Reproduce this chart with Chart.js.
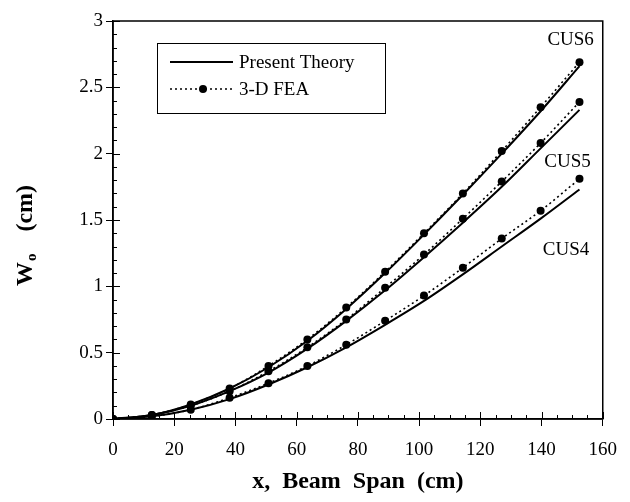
<!DOCTYPE html>
<html>
<head>
<meta charset="utf-8">
<script src="https://cdn.jsdelivr.net/npm/chart.js@4.4.1/dist/chart.umd.min.js"></script>
<style>
  html, body { margin: 0; padding: 0; background: #fff; }
  #wrap { width: 630px; height: 502px; }
</style>
</head>
<body>
<div id="wrap"><canvas id="c" width="630" height="502"></canvas></div>
<script>
// beam span stations (cm) where the FEA results were taken
const spanX = [0, 12.7, 25.4, 38.1, 50.8, 63.5, 76.2, 88.9, 101.6, 114.3, 127, 139.7, 152.4];

// deflection W0 (cm), 3-D FEA
const feaCUS6 = [0, 0.03, 0.11, 0.23, 0.40, 0.60, 0.84, 1.11, 1.40, 1.70, 2.02, 2.35, 2.69];
const feaCUS5 = [0, 0.03, 0.10, 0.21, 0.36, 0.54, 0.75, 0.99, 1.24, 1.51, 1.79, 2.08, 2.39];
const feaCUS4 = [0, 0.02, 0.07, 0.16, 0.27, 0.40, 0.56, 0.74, 0.93, 1.14, 1.36, 1.57, 1.81];

// deflection W0 (cm), present theory
const thCUS6 = [0, 0.03, 0.11, 0.23, 0.39, 0.59, 0.83, 1.10, 1.39, 1.69, 2.00, 2.32, 2.66];
const thCUS5 = [0, 0.03, 0.10, 0.21, 0.35, 0.53, 0.74, 0.97, 1.22, 1.48, 1.75, 2.04, 2.33];
const thCUS4 = [0, 0.02, 0.07, 0.15, 0.26, 0.39, 0.54, 0.71, 0.89, 1.09, 1.30, 1.51, 1.73];

const xTicks = [0, 20, 40, 60, 80, 100, 120, 140, 160];
const yTicks = [0, 0.5, 1, 1.5, 2, 2.5, 3];

// curve labels, anchored in data units
const curveNames = ["CUS6", "CUS5", "CUS4"];
const curveLabelX = [149.5, 148.5, 148];
const curveLabelY = [2.86, 1.94, 1.27];

const serif = "'Liberation Serif', 'DejaVu Serif', serif";

function pts(ys) {
    return spanX.map((x, i) => ({ x: x, y: ys[i] }));
}

function theory(ys) {
    return {
        data: pts(ys),
        borderColor: "#000",
        borderWidth: 2,
        pointRadius: 0,
        cubicInterpolationMode: "monotone",
        fill: false
    };
}

function fea(ys) {
    return {
        data: pts(ys),
        borderColor: "#000",
        borderWidth: 1.6,
        borderDash: [2, 3],
        pointRadius: 4,
        pointBackgroundColor: "#000",
        pointBorderWidth: 0,
        cubicInterpolationMode: "monotone",
        fill: false
    };
}

const decorPlugin = {
    id: "decor",
    afterDraw(chart) {
        const ctx = chart.ctx;
        const a = chart.chartArea;
        const xs = chart.scales.x;
        const ys = chart.scales.y;
        ctx.save();
        ctx.strokeStyle = "#000";

        // frame
        ctx.lineWidth = 1.5;
        ctx.strokeRect(a.left, a.top, a.right - a.left, a.bottom - a.top);

        // inward ticks
        ctx.lineWidth = 1;
        ctx.beginPath();
        for (let v = 0; v <= 160; v += 5) {
            const px = Math.round(xs.getPixelForValue(v)) + 0.5;
            const len = v % 20 === 0 ? 7 : 4;
            ctx.moveTo(px, a.bottom);
            ctx.lineTo(px, a.bottom - len);
        }
        for (let k = 0; k <= 30; k++) {
            const py = Math.round(ys.getPixelForValue(k / 10)) + 0.5;
            const len = k % 5 === 0 ? 7 : 4;
            ctx.moveTo(a.left, py);
            ctx.lineTo(a.left + len, py);
        }
        ctx.stroke();

        // curve labels
        ctx.fillStyle = "#000";
        ctx.font = "19px " + serif;
        ctx.textAlign = "center";
        ctx.textBaseline = "middle";
        curveNames.forEach((n, i) => {
            ctx.fillText(n, xs.getPixelForValue(curveLabelX[i]), ys.getPixelForValue(curveLabelY[i]));
        });

        // legend box
        const bx = 157, by = 43, bw = 228, bh = 70;
        ctx.lineWidth = 1;
        ctx.strokeRect(bx + 0.5, by + 0.5, bw, bh);
        const r1 = 62, r2 = 89;
        ctx.lineWidth = 2;
        ctx.beginPath();
        ctx.moveTo(170, r1);
        ctx.lineTo(233, r1);
        ctx.stroke();
        ctx.lineWidth = 1.6;
        ctx.setLineDash([2, 3]);
        ctx.beginPath();
        ctx.moveTo(170, r2);
        ctx.lineTo(233, r2);
        ctx.stroke();
        ctx.setLineDash([]);
        ctx.beginPath();
        ctx.arc(203, r2, 4, 0, Math.PI * 2);
        ctx.fill();
        ctx.textAlign = "left";
        ctx.fillText("Present Theory", 239, r1 + 1);
        ctx.fillText("3-D FEA", 239, r2 + 1);

        // axis titles
        ctx.font = "bold 24px " + serif;
        ctx.textAlign = "center";
        ctx.fillText("x,  Beam  Span  (cm)", (a.left + a.right) / 2, 482);

        ctx.translate(26, 236);
        ctx.rotate(-Math.PI / 2);
        ctx.textAlign = "left";
        const wW = ctx.measureText("W").width;
        ctx.font = "bold 15px " + serif;
        const oW = ctx.measureText("o").width;
        ctx.font = "bold 24px " + serif;
        const gap = 22;
        const cmW = ctx.measureText("(cm)").width;
        const total = wW + oW + gap + cmW;
        let cx = -total / 2;
        ctx.fillText("W", cx, 0);
        cx += wW + 1;
        ctx.font = "bold 15px " + serif;
        ctx.fillText("o", cx, 6);
        cx += oW + gap;
        ctx.font = "bold 24px " + serif;
        ctx.fillText("(cm)", cx, 0);
        ctx.restore();
    }
};

new Chart(document.getElementById("c"), {
    type: "line",
    data: {
        datasets: [
            theory(thCUS6), fea(feaCUS6),
            theory(thCUS5), fea(feaCUS5),
            theory(thCUS4), fea(feaCUS4)
        ]
    },
    options: {
        responsive: false,
        animation: false,
        layout: { padding: { left: 0, right: 19, top: 21, bottom: 0 } },
        plugins: { legend: { display: false }, tooltip: { enabled: false } },
        scales: {
            x: {
                type: "linear",
                min: 0, max: 160,
                afterFit(s) { s.height = 83; },
                afterBuildTicks(s) { s.ticks = xTicks.map(v => ({ value: v })); },
                grid: { drawOnChartArea: false, tickLength: 7, color: "#000", lineWidth: 1 },
                border: { color: "#000", width: 1.5 },
                ticks: { color: "#000", font: { family: serif, size: 19 }, padding: 13, maxRotation: 0,
                         callback: v => String(v) }
            },
            y: {
                type: "linear",
                min: 0, max: 3,
                afterFit(s) { s.width = 113; },
                afterBuildTicks(s) { s.ticks = yTicks.map(v => ({ value: v })); },
                grid: { drawOnChartArea: false, tickLength: 7, color: "#000", lineWidth: 1 },
                border: { color: "#000", width: 1.5 },
                ticks: { color: "#000", font: { family: serif, size: 19 }, padding: 3,
                         callback: v => String(v) }
            }
        }
    },
    plugins: [decorPlugin]
});
</script>
</body>
</html>
